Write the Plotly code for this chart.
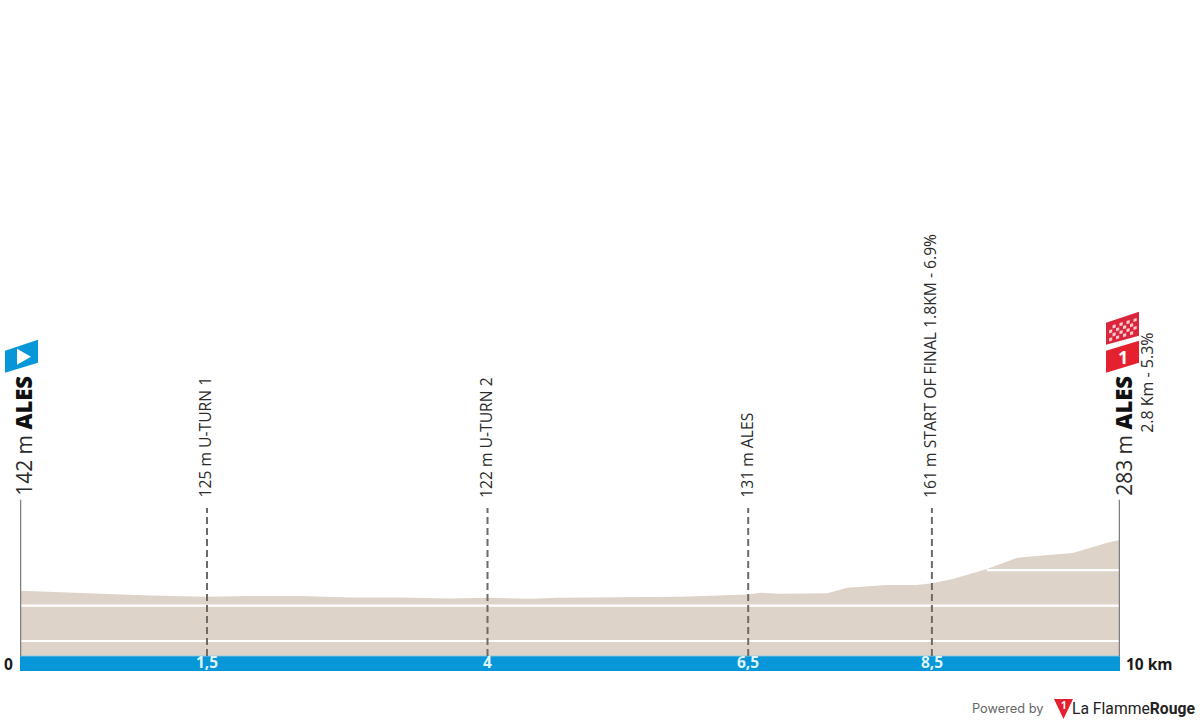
import plotly.graph_objects as go

# Elevation profile
km = [0, 0.73, 1.18, 1.70, 2.09, 2.55, 3.0, 3.45, 3.91, 4.25, 4.64, 4.91, 5.45, 6.0,
      6.62, 6.73, 6.91, 7.15, 7.34, 7.52, 7.88, 8.15, 8.29, 8.48, 8.79, 9.06, 9.14, 9.57, 9.75, 9.91, 10]
elev = [142, 134, 128, 125, 127, 127, 123, 123, 120, 122, 119, 122, 123, 125,
        131, 136, 133, 133, 135, 150, 158, 158, 163, 175, 203, 234, 237, 248, 265, 279, 285]
base_level = -42
band_bottom = -84.6
grid_levels = [0, 100, 200]
grid_from = [0, 0, 8.79]

# Waypoints
way_km = [1.70, 4.25, 6.62, 8.29]
way_tick = ["1,5", "4", "6,5", "8,5"]
way_text = ["125 m U-TURN 1", "122 m U-TURN 2", "131 m ALES", "161 m START OF FINAL 1.8KM - 6.9%"]
way_top = 375
end_top = 398

BROWN = "#ddd3c9"
BLUE = "#0796d7"
GREY = "#7f7f7f"
DASH = "#6e6a68"
TXT = "#2b2b2b"
FONT = "Open Sans"

fig = go.Figure()
fig.add_trace(go.Scatter(x=[0, 10], y=[base_level, base_level], mode="lines",
                         line=dict(width=0), hoverinfo="skip"))
fig.add_trace(go.Scatter(x=km, y=elev, mode="lines", line=dict(width=0, color=BROWN),
                         fill="tonexty", fillcolor=BROWN, hoverinfo="skip"))
for level, start in zip(grid_levels, grid_from):
    fig.add_trace(go.Scatter(x=[start, 10], y=[level, level], mode="lines",
                             line=dict(color="white", width=2.2), hoverinfo="skip"))
fig.add_trace(go.Scatter(x=[0, 10], y=[band_bottom, band_bottom], mode="lines",
                         line=dict(width=0), hoverinfo="skip"))
fig.add_trace(go.Scatter(x=[0, 10], y=[base_level, base_level], mode="lines",
                         line=dict(color="#9fcde2", width=1), fill="tonexty", fillcolor=BLUE,
                         hoverinfo="skip"))
for x in way_km:
    fig.add_trace(go.Scatter(x=[x, x], y=[base_level, way_top], mode="lines",
                             line=dict(color=DASH, width=2, dash="7px,4px"), hoverinfo="skip"))
for x in [0, 10]:
    fig.add_trace(go.Scatter(x=[x, x], y=[base_level, end_top], mode="lines",
                             line=dict(color=GREY, width=2.5), hoverinfo="skip"))

ann = []
def rot(x, y, text, size, dx=0, dy=0, color=TXT):
    ann.append(dict(x=x, y=y, text=text, textangle=-90, showarrow=False, xanchor="center",
                    yanchor="bottom", xshift=dx, yshift=dy,
                    font=dict(family=FONT, size=size, color=color)))

for x, t in zip(way_km, way_text):
    rot(x, way_top, t, 15.7, dx=-2, dy=8)
for x, t in zip(way_km, way_tick):
    ann.append(dict(x=x, y=-63, text=t, showarrow=False, yshift=1, xanchor="center",
                    font=dict(family=FONT, size=15.5, color="#dff4fb", weight=700)))
NAME = '<span style="font-size:21px">%s m </span><span style="font-size:22px;font-weight:800;fill:#111111">ALES</span>'
rot(0, end_top, NAME % "142", 21, dx=3, dy=2)
rot(10, end_top, NAME % "283", 21, dx=3, dy=2)
rot(10, end_top, "2.8 Km - 5.3%", 16, dx=27, dy=65)
ann.append(dict(x=0, y=-63, text="<b>0</b>", showarrow=False, xanchor="right", xshift=-5, yshift=-1,
                font=dict(family=FONT, size=15.5, color="#1a1a1a")))
ann.append(dict(x=10, y=-63, text="<b>10 km</b>", showarrow=False, xanchor="left", xshift=4, yshift=-1,
                font=dict(family=FONT, size=15.5, color="#1a1a1a")))
ann.append(dict(xref="paper", yref="paper", x=1.0, y=0, text="Powered by", showarrow=False,
                xanchor="right", yanchor="top", xshift=-74, yshift=-28,
                font=dict(family="Inter", size=12.8, color="#666666")))
ann.append(dict(xref="paper", yref="paper", x=1.0, y=0,
                text='La Flamme<b>Rouge</b>', showarrow=False,
                xanchor="right", yanchor="top", xshift=77, yshift=-26,
                font=dict(family="Roboto", size=15.7, color="#222222")))
ann.append(dict(x=10, y=end_top, text="<b>1</b>", showarrow=False, xshift=3, yshift=143, xanchor="center",
                font=dict(family=FONT, size=18, color="white")))
ann.append(dict(xref="paper", yref="paper", x=1.0, y=0, text="<b>1</b>", showarrow=False,
                xanchor="center", xshift=-56.5, yshift=-34, yanchor="middle",
                font=dict(family=FONT, size=10, color="white")))

# Icons hang off the axis ends with pixel offsets
shapes = []
def icon(xa, ya, path, color):
    shapes.append(dict(type="path", xref="paper", yref="y", xsizemode="pixel", ysizemode="pixel",
                       xanchor=xa, yanchor=ya, path=path, fillcolor=color, line=dict(width=0)))

icon(0, end_top, "M -15,127 L 18,137 L 18,160 L -15,149 Z", BLUE)
icon(0, end_top, "M -3,135 L 11,143 L -3,151 Z", "white")
icon(1, end_top, "M -14,127 L 19,137 L 19,159 L -14,149 Z", "#e5202f")
icon(1, end_top, "M -14,155 L 19,164 L 19,188 L -14,177 Z", "#d9263c")
for col in range(8):
    for row in range(4):
        if (col + row) % 2 == 0:
            x0 = -11 + col * 3.5
            y0 = 157.5 + row * 4 + (x0 + 14) * 0.3
            icon(1, end_top, f"M {x0},{y0} L {x0+3.2},{y0+1} L {x0+3.2},{y0+4.2} L {x0},{y0+3.2} Z", "#f4c9ce")
shapes.append(dict(type="path", xref="paper", yref="paper", xsizemode="pixel", ysizemode="pixel",
                   xanchor=1.0, yanchor=0, path="M -66,-28 L -47,-28 L -56.5,-48 Z",
                   fillcolor="#e3202f", line=dict(width=0)))

fig.update_layout(
    width=1200, height=725, margin=dict(l=20, r=80, t=0, b=54),
    paper_bgcolor="white", plot_bgcolor="white", showlegend=False,
    xaxis=dict(range=[0, 10], visible=False),
    yaxis=dict(range=[band_bottom, 1807.6], visible=False),
    annotations=ann, shapes=shapes,
)
fig.write_html("out.html", config=dict(displayModeBar=False),
               post_script="document.body.style.margin='0';document.body.style.overflow='hidden';")
